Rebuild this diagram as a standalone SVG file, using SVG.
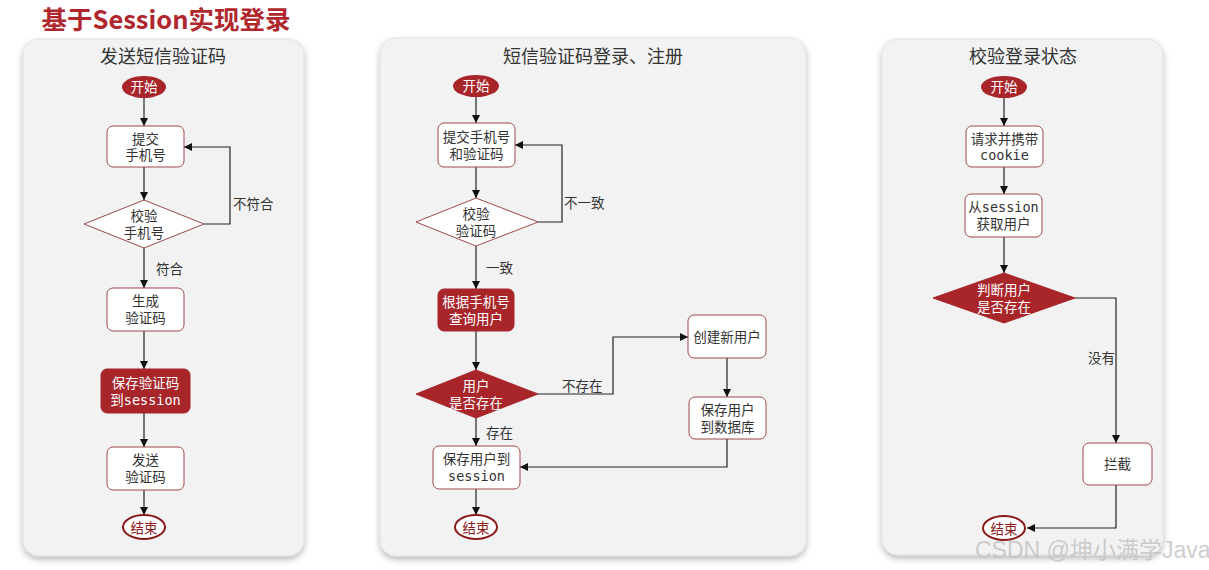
<svg xmlns="http://www.w3.org/2000/svg" width="1209" height="570" viewBox="0 0 1209 570">
<style>
.panel{fill:#f2f2f2;stroke:#e2e2e2;stroke-width:1}
.ptitle{font-family:"Noto Sans CJK SC","Noto Sans",sans-serif;font-size:18px;fill:#333;text-anchor:middle}
.box{fill:#fff;stroke:#a04848;stroke-width:1}
.rbox{fill:#a8252a;stroke:#a8252a;stroke-width:1}
.t{font-family:"DejaVu Sans Mono","Noto Sans CJK SC",monospace;font-size:13.5px;fill:#333;text-anchor:middle;dominant-baseline:central}
.tw{font-family:"DejaVu Sans Mono","Noto Sans CJK SC",monospace;font-size:13.5px;fill:#fff;text-anchor:middle;dominant-baseline:central}
.tr{font-family:"Noto Sans CJK SC",sans-serif;font-size:13.5px;fill:#8b1a1a;text-anchor:middle;dominant-baseline:central}
.start{fill:#a8252a}
.end{fill:#fff;stroke:#8b1a1a;stroke-width:2}
.lbl{font-family:"Noto Sans CJK SC",sans-serif;font-size:13.5px;fill:#333;dominant-baseline:central}
.c{fill:none;stroke:#222;stroke-width:1.2;marker-end:url(#arr)}
</style>
<defs>
<marker id="arr" viewBox="0 0 10 10" refX="10" refY="5" markerWidth="8" markerHeight="8" markerUnits="userSpaceOnUse" orient="auto">
<path d="M0,0 L10,5 L0,10 z" fill="#111"/>
</marker>
<filter id="sh" x="-10%" y="-10%" width="120%" height="120%">
<feDropShadow dx="0" dy="3" stdDeviation="3" flood-color="#000" flood-opacity="0.28"/>
</filter>
</defs>
<rect width="1209" height="570" fill="#fff"/>
<text x="166" y="29" font-family="Noto Sans CJK SC, Noto Sans, sans-serif" font-size="25.5" font-weight="bold" fill="#b0282e" text-anchor="middle">基于Session实现登录</text>

<!-- panels -->
<g id="panel1"><rect class="panel" x="23" y="39" width="281" height="517" rx="16" filter="url(#sh)"/><text class="ptitle" x="163" y="63">发送短信验证码</text></g>
<g id="panel2"><rect class="panel" x="380" y="38" width="426" height="518" rx="16" filter="url(#sh)"/><text class="ptitle" x="593" y="63">短信验证码登录、注册</text></g>
<g id="panel3"><rect class="panel" x="882" y="39" width="281" height="516" rx="16" filter="url(#sh)"/><text class="ptitle" x="1023" y="63">校验登录状态</text></g>

<g id="connectors">
<path class="c" d="M144,98 V126"/>
<path class="c" d="M144,167 V200"/>
<path class="c" d="M204,224 H230 V147 H184"/>
<path class="c" d="M144,248 V288"/>
<path class="c" d="M144,331 V369"/>
<path class="c" d="M144,413 V447"/>
<path class="c" d="M144,490 V515"/>
<text class="lbl" x="233" y="203">不符合</text>
<text class="lbl" x="156" y="268">符合</text>

<path class="c" d="M476,97 V123"/>
<path class="c" d="M476,167 V198"/>
<path class="c" d="M538,222 H562 V145 H515"/>
<path class="c" d="M476,246 V289"/>
<path class="c" d="M476,331 V370"/>
<path class="c" d="M538,394 H613 V337 H688"/>
<path class="c" d="M727,358 V397"/>
<path class="c" d="M727,439 V467 H520"/>
<path class="c" d="M476,418 V446"/>
<path class="c" d="M476,489 V515"/>
<text class="lbl" x="564" y="202">不一致</text>
<text class="lbl" x="486" y="267">一致</text>
<text class="lbl" x="562" y="385">不存在</text>
<text class="lbl" x="486" y="432">存在</text>

<path class="c" d="M1004,98 V126"/>
<path class="c" d="M1004,167 V194"/>
<path class="c" d="M1004,237 V273"/>
<path class="c" d="M1075,298 H1116 V443"/>
<path class="c" d="M1116,485 V528 H1027"/>
<text class="lbl" x="1088" y="357">没有</text>
</g>

<!-- panel 1 nodes -->
<g id="p1-start"><ellipse class="start" cx="144" cy="87" rx="22" ry="11"/><text class="tw" x="144" y="87">开始</text></g>
<g id="p1-submit"><rect class="box" x="107" y="126" width="77" height="41" rx="6"/><text class="t" x="145.5" y="138.5">提交</text><text class="t" x="145.5" y="155">手机号</text></g>
<g id="p1-check"><polygon class="box" points="84,224 144,200 204,224 144,248"/><text class="t" x="144" y="216">校验</text><text class="t" x="144" y="232.5">手机号</text></g>
<g id="p1-gen"><rect class="box" x="107" y="288" width="77" height="43" rx="6"/><text class="t" x="145.5" y="301">生成</text><text class="t" x="145.5" y="318">验证码</text></g>
<g id="p1-save"><rect class="rbox" x="101" y="369" width="89" height="44" rx="6"/><text class="tw" x="145.5" y="382.5">保存验证码</text><text class="tw" x="145.5" y="399.5">到session</text></g>
<g id="p1-send"><rect class="box" x="107" y="447" width="77" height="43" rx="6"/><text class="t" x="145.5" y="460">发送</text><text class="t" x="145.5" y="477">验证码</text></g>
<g id="p1-end"><ellipse class="end" cx="144" cy="527" rx="21" ry="12"/><text class="tr" x="144" y="527">结束</text></g>

<!-- panel 2 nodes -->
<g id="p2-start"><ellipse class="start" cx="476" cy="86" rx="23" ry="11"/><text class="tw" x="476" y="86">开始</text></g>
<g id="p2-submit"><rect class="box" x="438" y="123" width="77" height="44" rx="6"/><text class="t" x="476.5" y="136.5">提交手机号</text><text class="t" x="476.5" y="153.5">和验证码</text></g>
<g id="p2-check"><polygon class="box" points="416,222 476,198 538,222 476,246"/><text class="t" x="476" y="214">校验</text><text class="t" x="476" y="231">验证码</text></g>
<g id="p2-query"><rect class="rbox" x="438" y="289" width="76" height="42" rx="6"/><text class="tw" x="476" y="301.5">根据手机号</text><text class="tw" x="476" y="318.5">查询用户</text></g>
<g id="p2-exists"><polygon class="rbox" points="416,394 476,370 538,394 476,418"/><text class="tw" x="476" y="385.5">用户</text><text class="tw" x="476" y="402.5">是否存在</text></g>
<g id="p2-create"><rect class="box" x="688" y="315" width="78" height="43" rx="6"/><text class="t" x="727" y="336.5">创建新用户</text></g>
<g id="p2-savedb"><rect class="box" x="689" y="397" width="77" height="42" rx="6"/><text class="t" x="727.5" y="409.5">保存用户</text><text class="t" x="727.5" y="426.5">到数据库</text></g>
<g id="p2-savesess"><rect class="box" x="433" y="446" width="87" height="43" rx="6"/><text class="t" x="476.5" y="459">保存用户到</text><text class="t" x="476.5" y="476">session</text></g>
<g id="p2-end"><ellipse class="end" cx="476" cy="527" rx="21" ry="12"/><text class="tr" x="476" y="527">结束</text></g>

<!-- panel 3 nodes -->
<g id="p3-start"><ellipse class="start" cx="1004" cy="87" rx="23" ry="11"/><text class="tw" x="1004" y="87">开始</text></g>
<g id="p3-req"><rect class="box" x="966" y="126" width="77" height="41" rx="6"/><text class="t" x="1004.5" y="138.5">请求并携带</text><text class="t" x="1004.5" y="155">cookie</text></g>
<g id="p3-get"><rect class="box" x="965" y="194" width="77" height="43" rx="6"/><text class="t" x="1003.5" y="207">从session</text><text class="t" x="1003.5" y="224">获取用户</text></g>
<g id="p3-judge"><polygon class="rbox" points="933,298 1004,273 1075,298 1004,323"/><text class="tw" x="1004" y="289.5">判断用户</text><text class="tw" x="1004" y="306.5">是否存在</text></g>
<g id="p3-block"><rect class="box" x="1083" y="443" width="69" height="42" rx="6"/><text class="t" x="1117.5" y="464">拦截</text></g>
<g id="p3-end"><ellipse class="end" cx="1004" cy="528" rx="21" ry="12"/><text class="tr" x="1004" y="528">结束</text></g>

<text x="975" y="558" font-family="Liberation Sans, Noto Sans CJK SC, sans-serif" font-size="23" fill="#c4c4c4" fill-opacity="0.85">CSDN @坤小满学Java</text>
</svg>
